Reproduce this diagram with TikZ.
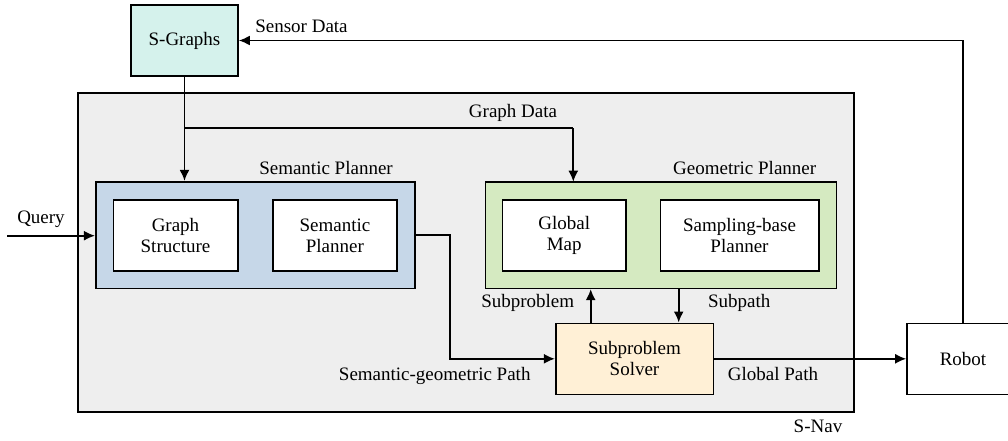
\documentclass[tikz,border=0pt]{standalone}
\usepackage{fontspec}
\setmainfont{Liberation Serif}
\usetikzlibrary{arrows.meta}
\definecolor{sgfill}{HTML}{D5F2EC}
\definecolor{semfill}{HTML}{C6D7E8}
\definecolor{geofill}{HTML}{D5EAC1}
\definecolor{solfill}{HTML}{FFF0D6}
\definecolor{navfill}{HTML}{EEEEEE}
\tikzset{
  box/.style={draw=black, line width=1.6pt, rectangle, inner sep=0pt, align=center,
    font=\rmfamily\fontsize{19}{21}\selectfont},
  lbl/.style={anchor=base, inner sep=0pt, font=\rmfamily\fontsize{19}{21}\selectfont},
  arr/.style={line width=1.8pt, -{Latex[length=11pt,width=10pt]}},
  ln/.style={line width=1.8pt},
}
\begin{document}
\begin{tikzpicture}[x=1pt,y=-1pt]
\useasboundingbox (0,0) rectangle (1008,441);
% outer S-Nav
\node[box, fill=navfill, minimum width=776pt, minimum height=319pt] (snav) at (466,252.7) {};
\node[box, fill=sgfill, minimum width=107pt, minimum height=71pt] (sg) at (184.5,40.5) {S-Graphs};
% semantic planner
\node[box, fill=semfill, minimum width=319.3pt, minimum height=106.6pt] (sem) at (255.4,235) {};
\node[box, fill=white, minimum width=124.4pt, minimum height=70.7pt] (gs) at (175.5,235.4) {Graph\\Structure};
\node[box, fill=white, minimum width=124.3pt, minimum height=70.7pt] (sp) at (334.9,235.4) {Semantic\\Planner};
% geometric planner
\node[box, fill=geofill, minimum width=351pt, minimum height=106.6pt] (geo) at (660.8,235) {};
\node[box, fill=white, minimum width=123.7pt, minimum height=70.7pt] (gm) at (564.2,235.4) {Global\\Map};
\node[box, fill=white, minimum width=158.4pt, minimum height=70.7pt] (sbp) at (739.5,235.4) {Sampling-base\\Planner};
% solver and robot
\node[box, fill=solfill, minimum width=157.6pt, minimum height=71pt] (sol) at (634.5,358.8) {Subproblem\\Solver};
\node[box, fill=white, minimum width=112pt, minimum height=71pt] (robot) at (963,358.8) {Robot};
% labels
\node[lbl] (lsensor) at (301.5,32.3) {Sensor Data};
\node[lbl] (lgraph) at (513,117.3) {Graph Data};
\node[lbl] (lsem) at (326,174) {Semantic Planner};
\node[lbl] (lgeo) at (744.7,174) {Geometric Planner};
\node[lbl] (lquery) at (41,223.3) {Query};
\node[lbl] (lsubp) at (527.7,307.3) {Subproblem};
\node[lbl] (lsubpath) at (739.3,307.3) {Subpath};
\node[lbl] (lsg) at (434.7,380) {Semantic-geometric Path};
\node[lbl] (lglob) at (773,380) {Global Path};
\node[lbl] (lnav) at (818,432.7) {S-Nav};
% connectors
\coordinate (gd) at (184,128.3);
\coordinate (gdin) at (573.3,181.7);
\coordinate (q) at (7,235.7);
\coordinate (bend) at (450,235);
\draw[arr] (robot.north) |- (sg.east);
\draw[arr] (sg.south) -- (sg.south |- sem.north);
\draw[ln] (gd) -- (gd -| gdin);
\draw[arr] (gd -| gdin) -- (gdin);
\draw[arr] (q) -- (sem.west |- q);
\draw[arr] (sem.east) -- (bend) |- (sol.west);
\draw[arr] (sol.east) -- (robot.west);
\draw[arr] ([xshift=-43.8pt]sol.north) -- ([xshift=-43.8pt]sol.north |- geo.south);
\draw[arr] ([xshift=44.2pt]sol.north |- geo.south) -- ([xshift=44.2pt]sol.north);
\end{tikzpicture}
\end{document}
